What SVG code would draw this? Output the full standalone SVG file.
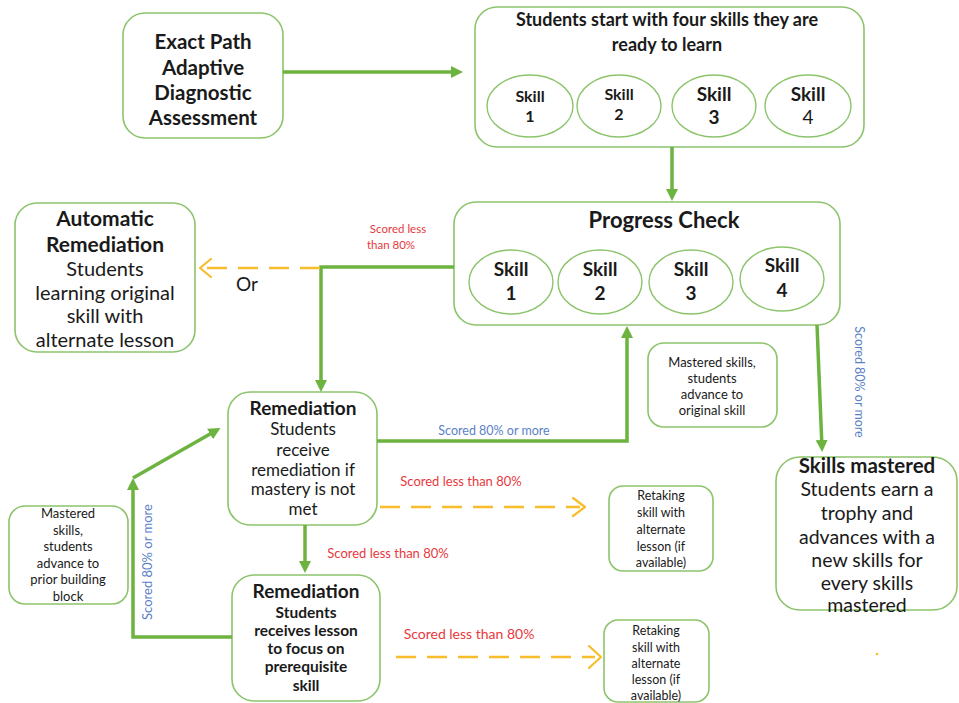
<svg xmlns="http://www.w3.org/2000/svg" width="959" height="703" viewBox="0 0 959 703">
<style>
.box{fill:#fff;stroke:#8cc46c;stroke-width:1.6}
.ell{fill:#fff;stroke:#8cc46c;stroke-width:1.4}
text{font-family:Lato,"Liberation Sans",sans-serif;fill:#1a1a1a;text-anchor:middle}
.b{font-weight:bold}
.red{fill:#e8383d}
.blue{fill:#5b7fc7}
.con{fill:none;stroke:#6cb33f;stroke-width:3.5}
.dash{fill:none;stroke:#f7bd2a;stroke-width:2.5;stroke-dasharray:20 11}
.chev{fill:none;stroke:#f7bd2a;stroke-width:2.2;stroke-linecap:round;stroke-linejoin:round}
</style>
<defs>
<marker id="ah" markerUnits="userSpaceOnUse" markerWidth="14" markerHeight="14" refX="8" refY="6" orient="auto">
<path d="M0,0 L12,6 L0,12 z" fill="#6cb33f"/>
</marker>
</defs>

<g id="n-diagnostic">
<rect class="box" x="123" y="13" width="160" height="125" rx="22"/>
<text class="b" x="203" y="49" font-size="20.5">Exact Path</text>
<text class="b" x="203" y="75" font-size="20.5">Adaptive</text>
<text class="b" x="203" y="100" font-size="20.5">Diagnostic</text>
<text class="b" x="203" y="125" font-size="20.5">Assessment</text>
</g>

<g id="n-start">
<rect class="box" x="475" y="7" width="389" height="140" rx="22"/>
<text class="b" x="667" y="26" font-size="18">Students start with four skills they are</text>
<text class="b" x="667" y="51" font-size="18">ready to learn</text>
<ellipse class="ell" cx="530" cy="106" rx="43" ry="31"/>
<ellipse class="ell" cx="619" cy="106" rx="42" ry="31"/>
<ellipse class="ell" cx="714" cy="106" rx="42" ry="31"/>
<ellipse class="ell" cx="808" cy="106" rx="43" ry="31"/>
<text class="b" x="530" y="102" font-size="16">Skill</text>
<text class="b" x="530" y="122" font-size="16">1</text>
<text class="b" x="619" y="100" font-size="16">Skill</text>
<text class="b" x="619" y="120" font-size="16">2</text>
<text class="b" x="714" y="101" font-size="19">Skill</text>
<text class="b" x="714" y="124" font-size="19">3</text>
<text class="b" x="808" y="101" font-size="19">Skill</text>
<text x="808" y="124" font-size="19">4</text>
</g>

<g id="n-progress">
<rect class="box" x="454" y="202" width="386" height="123" rx="22"/>
<text class="b" x="664" y="228" font-size="22">Progress Check</text>
<ellipse class="ell" cx="511" cy="282" rx="42" ry="32"/>
<ellipse class="ell" cx="600" cy="282" rx="42" ry="32"/>
<ellipse class="ell" cx="691" cy="282" rx="42" ry="32"/>
<ellipse class="ell" cx="782" cy="279" rx="42" ry="32"/>
<text class="b" x="511" y="276" font-size="19">Skill</text>
<text class="b" x="511" y="300" font-size="19">1</text>
<text class="b" x="600" y="276" font-size="19">Skill</text>
<text class="b" x="600" y="300" font-size="19">2</text>
<text class="b" x="691" y="276" font-size="19">Skill</text>
<text class="b" x="691" y="300" font-size="19">3</text>
<text class="b" x="782" y="272" font-size="19">Skill</text>
<text class="b" x="782" y="297" font-size="19">4</text>
</g>

<g id="n-auto">
<rect class="box" x="15" y="203" width="180" height="149" rx="22"/>
<text class="b" x="105" y="226" font-size="21">Automatic</text>
<text class="b" x="105" y="252" font-size="21">Remediation</text>
<text x="105" y="276" font-size="20">Students</text>
<text x="105" y="300" font-size="20">learning original</text>
<text x="105" y="323" font-size="20">skill with</text>
<text x="105" y="347" font-size="20">alternate lesson</text>
</g>

<g id="n-rem1">
<rect class="box" x="228" y="392" width="149" height="133" rx="22"/>
<text class="b" x="303" y="415" font-size="19">Remediation</text>
<text x="303" y="435" font-size="17">Students</text>
<text x="303" y="456" font-size="17">receive</text>
<text x="303" y="476" font-size="17">remediation if</text>
<text x="303" y="495" font-size="17">mastery is not</text>
<text x="303" y="515" font-size="17">met</text>
</g>

<g id="n-rem2">
<rect class="box" x="232" y="575" width="148" height="126" rx="22"/>
<text class="b" x="306" y="598" font-size="19">Remediation</text>
<text class="b" x="306" y="618" font-size="15.5">Students</text>
<text class="b" x="306" y="636" font-size="15.5">receives lesson</text>
<text class="b" x="306" y="654" font-size="15.5">to focus on</text>
<text class="b" x="306" y="672" font-size="15.5">prerequisite</text>
<text class="b" x="306" y="691" font-size="15.5">skill</text>
</g>

<g id="n-mastered-prior">
<rect class="box" x="9" y="506" width="119" height="98" rx="16"/>
<text x="68" y="518" font-size="13">Mastered</text>
<text x="68" y="535" font-size="13">skills,</text>
<text x="68" y="551" font-size="13">students</text>
<text x="68" y="568" font-size="13">advance to</text>
<text x="68" y="584" font-size="13">prior building</text>
<text x="68" y="601" font-size="13">block</text>
</g>

<g id="n-mastered-orig">
<rect class="box" x="648" y="343" width="129" height="84" rx="16"/>
<text x="712" y="367" font-size="13">Mastered skills,</text>
<text x="712" y="383" font-size="13">students</text>
<text x="712" y="399" font-size="13">advance to</text>
<text x="712" y="415" font-size="13">original skill</text>
</g>

<g id="n-retake1">
<rect class="box" x="609" y="486" width="104" height="85" rx="14"/>
<text x="661" y="500" font-size="12.5">Retaking</text>
<text x="661" y="517" font-size="12.5">skill with</text>
<text x="661" y="534" font-size="12.5">alternate</text>
<text x="661" y="551" font-size="12.5">lesson (if</text>
<text x="661" y="567" font-size="12.5">available)</text>
</g>

<g id="n-retake2">
<rect class="box" x="604" y="620" width="105" height="82" rx="14"/>
<text x="656" y="635" font-size="12.5">Retaking</text>
<text x="656" y="652" font-size="12.5">skill with</text>
<text x="656" y="668" font-size="12.5">alternate</text>
<text x="656" y="684" font-size="12.5">lesson (if</text>
<text x="656" y="700" font-size="12.5">available)</text>
</g>

<g id="n-skills-mastered">
<rect class="box" x="776" y="457" width="181" height="153" rx="24"/>
<text class="b" x="867" y="473" font-size="20.5">Skills mastered</text>
<text x="867" y="496" font-size="19.5">Students earn a</text>
<text x="867" y="520" font-size="19.5">trophy and</text>
<text x="867" y="544" font-size="19.5">advances with a</text>
<text x="867" y="567" font-size="19.5">new skills for</text>
<text x="867" y="590" font-size="19.5">every skills</text>
<text x="867" y="612" font-size="19.5">mastered</text>
</g>

<g id="connectors">
<path class="con" d="M283,72 H459" marker-end="url(#ah)"/>
<path class="con" d="M672,147 V197" marker-end="url(#ah)"/>
<path class="con" d="M454,267 H321 V388" marker-end="url(#ah)" stroke="#7cc243"/>
<path class="dash" d="M320,268 H204"/>
<path class="chev" d="M211,259 L200,268 L211,277"/>
<path class="con" d="M377,441 H627 V330" marker-end="url(#ah)"/>
<path class="con" d="M817,325 L822,448" marker-end="url(#ah)"/>
<path class="con" d="M305,525 V569" marker-end="url(#ah)"/>
<path class="con" d="M232,637 H133 V482" marker-end="url(#ah)" stroke="#7cc243"/>
<path class="con" d="M133,478 L217,430" marker-end="url(#ah)" stroke="#7cc243"/>
<path class="dash" d="M380,507 H580"/>
<path class="chev" d="M573,498 L585,507 L573,516"/>
<path class="dash" d="M396,657 H595"/>
<path class="chev" d="M589,646 L601,657 L589,668"/>
</g>

<g id="labels">
<text class="red" x="398" y="233" font-size="11.5">Scored  less</text>
<text class="red" x="391" y="249" font-size="11.5">than 80%</text>
<text x="247" y="291" font-size="19">Or</text>
<text class="blue" x="494" y="435" font-size="12.5">Scored 80% or more</text>
<text class="red" x="461" y="486" font-size="13">Scored  less than 80%</text>
<text class="red" x="388" y="558" font-size="13">Scored  less than 80%</text>
<text class="red" x="469" y="639" font-size="14">Scored  less than 80%</text>
<text class="blue" font-size="13" transform="translate(152,562) rotate(-90)">Scored 80% or more</text>
<text class="blue" font-size="12.5" transform="translate(855,382) rotate(90)">Scored 80% or more</text>
<circle cx="877" cy="654" r="1.3" fill="#f7bd2a"/>
</g>
</svg>
